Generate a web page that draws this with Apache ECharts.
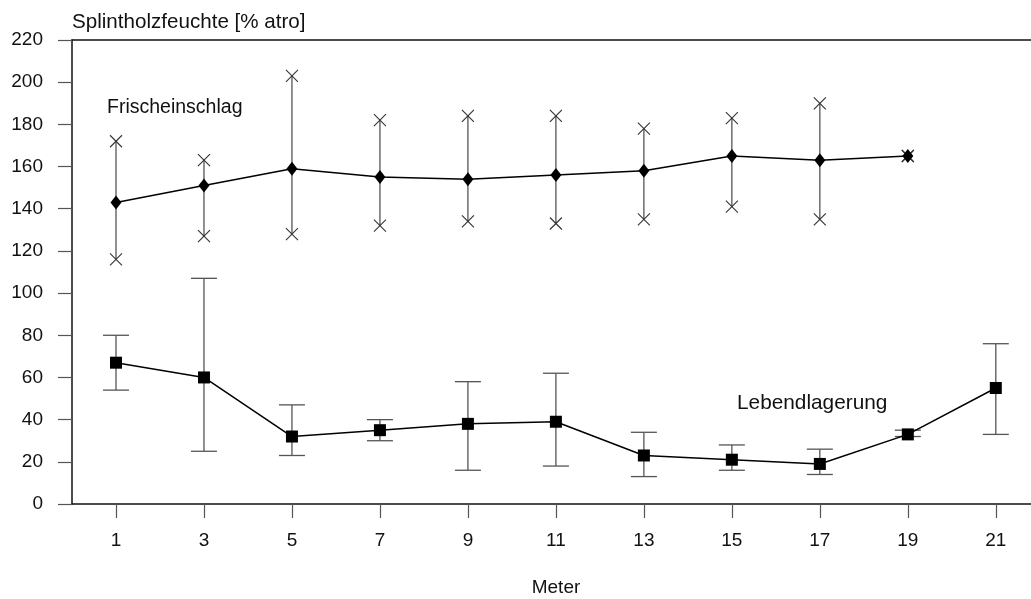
<!DOCTYPE html>
<html><head><meta charset="utf-8">
<script src="https://cdn.jsdelivr.net/npm/echarts@6/dist/echarts.min.js"></script>
<style>html,body{margin:0;padding:0;background:#fff}#c{width:1031px;height:599px}</style>
</head><body><div id="c"></div>
<script>
const xTicks = [1,3,5,7,9,11,13,15,17,19,21];
const frischX = [1,3,5,7,9,11,13,15,17,19];
const frischMean = [143,151,159,155,154,156,158,165,163,165];
const frischHigh = [172,163,203,182,184,184,178,183,190,165];
const frischLow  = [116,127,128,132,134,133,135,141,135,165];
const lebendX = [1,3,5,7,9,11,13,15,17,19,21];
const lebendMean = [67,60,32,35,38,39,23,21,19,33,55];
const lebendHigh = [80,107,47,40,58,62,34,28,26,35,76];
const lebendLow  = [54,25,23,30,16,18,13,16,14,32,33];

const FONT = '"Liberation Sans", Arial, Helvetica, sans-serif';
const chart = echarts.init(document.getElementById('c'), null, {renderer:'canvas'});

function errRender(kind){
  return function(params, api){
    const x = api.value(0), lo = api.value(1), hi = api.value(2);
    const pL = api.coord([x, lo]), pH = api.coord([x, hi]);
    const st = {stroke:'#555', lineWidth:1.3};
    const ch = [{type:'line', shape:{x1:pL[0],y1:pL[1],x2:pH[0],y2:pH[1]}, style:st}];
    if (kind === 'cap') {
      const w = 13;
      [pL,pH].forEach(p=>ch.push({type:'line', shape:{x1:p[0]-w,y1:p[1],x2:p[0]+w,y2:p[1]}, style:st}));
    } else {
      const s = 6;
      const st2 = {stroke:'#333', lineWidth:1.1};
      [pL,pH].forEach(p=>{
        ch.push({type:'line', shape:{x1:p[0]-s,y1:p[1]-s,x2:p[0]+s,y2:p[1]+s}, style:st2});
        ch.push({type:'line', shape:{x1:p[0]-s,y1:p[1]+s,x2:p[0]+s,y2:p[1]-s}, style:st2});
      });
    }
    return {type:'group', children:ch};
  };
}

const option = {
  animation:false,
  backgroundColor:'#fff',
  textStyle:{fontFamily:FONT},
  grid:{left:72, right:0, top:40, bottom:95, containLabel:false},
  xAxis:[{
    type:'value', min:0, max:21.8, position:'bottom',
    axisLine:{show:true, onZero:false, lineStyle:{color:'#111', width:1.5}},
    axisTick:{show:true, length:14, customValues:xTicks, lineStyle:{color:'#555', width:1.2}},
    axisLabel:{show:true, customValues:xTicks, margin:27, fontSize:19, color:'#111', fontFamily:FONT},
    splitLine:{show:false}
  },{
    type:'value', min:0, max:21.8, position:'top',
    axisLine:{show:true, onZero:false, lineStyle:{color:'#111', width:1.5}},
    axisTick:{show:false}, axisLabel:{show:false}, splitLine:{show:false}
  }],
  yAxis:{
    type:'value', min:0, max:220, interval:20,
    axisLine:{show:true, onZero:false, lineStyle:{color:'#111', width:1.5}},
    axisTick:{show:true, length:14, lineStyle:{color:'#555', width:1.2}},
    axisLabel:{margin:29, fontSize:19, color:'#111', fontFamily:FONT},
    splitLine:{show:false}
  },
  graphic:[
    {type:'text', x:72, y:22, style:{text:'Splintholzfeuchte [% atro]', font:'20.6px '+FONT, fill:'#111', textAlign:'left', textVerticalAlign:'middle'}},
    {type:'text', x:107, y:108, style:{text:'Frischeinschlag', font:'19.5px '+FONT, fill:'#111', textAlign:'left', textVerticalAlign:'middle'}},
    {type:'text', x:737, y:403, style:{text:'Lebendlagerung', font:'20.8px '+FONT, fill:'#111', textAlign:'left', textVerticalAlign:'middle'}},
    {type:'text', x:556, y:588, style:{text:'Meter', font:'19px '+FONT, fill:'#111', textAlign:'center', textVerticalAlign:'middle'}}
  ],
  series:[
    {type:'custom', renderItem:errRender('x'), data:frischX.map((x,i)=>[x,frischLow[i],frischHigh[i]]), z:2},
    {type:'custom', renderItem:errRender('cap'), data:lebendX.map((x,i)=>[x,lebendLow[i],lebendHigh[i]]), z:2},
    {type:'line', data:frischX.map((x,i)=>[x,frischMean[i]]), symbol:'diamond', symbolSize:[11,14],
      itemStyle:{color:'#000'}, lineStyle:{color:'#000', width:1.5}, z:3},
    {type:'line', data:lebendX.map((x,i)=>[x,lebendMean[i]]), symbol:'rect', symbolSize:12,
      itemStyle:{color:'#000'}, lineStyle:{color:'#000', width:1.5}, z:3}
  ]
};
chart.setOption(option);
</script></body></html>
